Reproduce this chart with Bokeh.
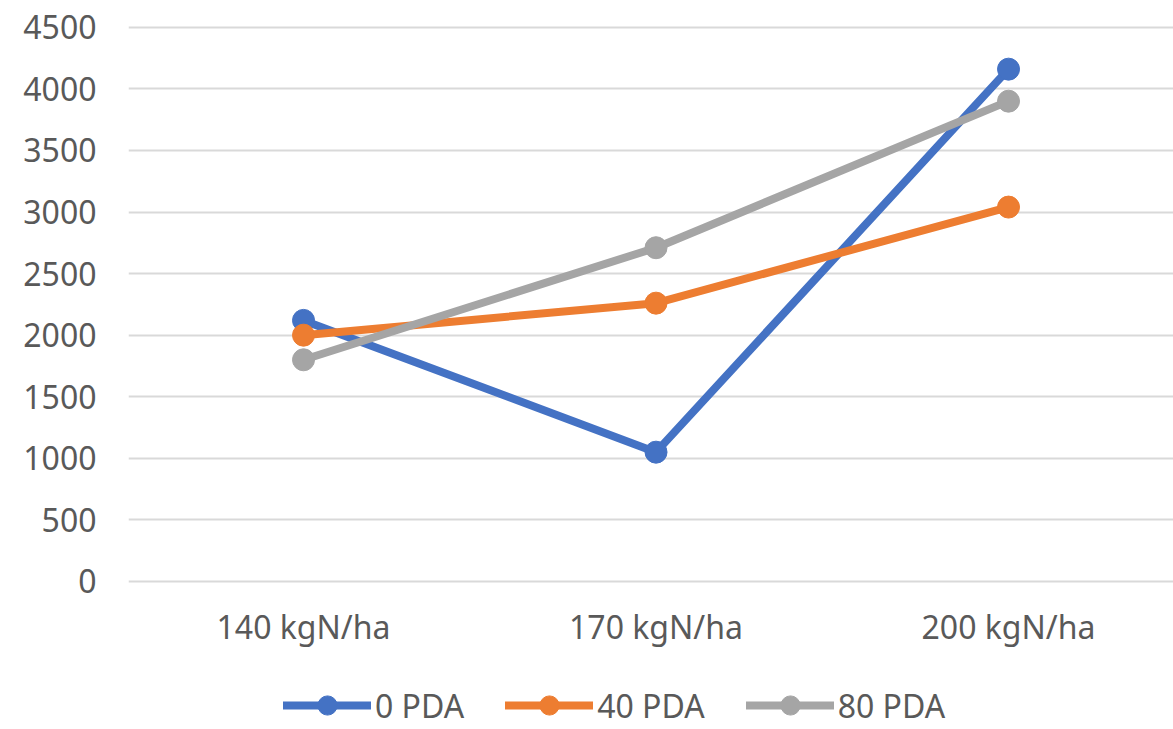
from bokeh.plotting import figure
from bokeh.models import Range1d, FixedTicker, Legend, LegendItem
from bokeh.embed import file_html
from bokeh.resources import INLINE

categories = ["140 kgN/ha", "170 kgN/ha", "200 kgN/ha"]
series_names = ["0 PDA", "40 PDA", "80 PDA"]
pda_0 = [2120, 1050, 4160]
pda_40 = [2000, 2260, 3040]
pda_80 = [1800, 2710, 3900]
y_ticks = [0, 500, 1000, 1500, 2000, 2500, 3000, 3500, 4000, 4500]

colors = ["#4472C4", "#ED7D31", "#A5A5A5"]
FONT = "Noto Sans"
TEXT = "#595959"

p = figure(frame_width=1045, frame_height=717,
           min_border_left=128, min_border_right=0, min_border_top=12, min_border_bottom=0,
           x_range=Range1d(-0.4965, 2.468), y_range=Range1d(-1202, 4620),
           output_backend="svg", toolbar_location=None)
p.outline_line_color = None
p.xgrid.grid_line_color = None
p.ygrid.grid_line_color = "#D9D9D9"
p.ygrid.grid_line_width = 2
p.ygrid.ticker = FixedTicker(ticks=y_ticks)

xs = list(range(len(categories)))
items = []
for name, vals, c in zip(series_names, [pda_0, pda_40, pda_80], colors):
    r1 = p.line(xs, vals, line_color=c, line_width=8, line_join="round", line_cap="round")
    r2 = p.scatter(xs, vals, size=22, fill_color=c, line_color=c, marker="circle")
    items.append(LegendItem(label=name, renderers=[r1, r2]))

p.xaxis.ticker = FixedTicker(ticks=xs)
p.xaxis.major_label_overrides = {i: c for i, c in enumerate(categories)}
p.xaxis.fixed_location = 0
p.yaxis.ticker = FixedTicker(ticks=y_ticks)
for ax in (p.xaxis[0], p.yaxis[0]):
    ax.axis_line_color = None
    ax.major_tick_line_color = None
    ax.minor_tick_line_color = None
    ax.major_tick_out = 0
    ax.major_tick_in = 0
    ax.major_label_text_font = FONT
    ax.major_label_text_font_size = "32px"
    ax.major_label_text_color = TEXT
p.xaxis.major_label_standoff = 24
p.yaxis.major_label_standoff = 32

legend = Legend(items=items, orientation="horizontal", location=(155, 0),
                glyph_width=88, glyph_height=48, label_standoff=4, spacing=41,
                padding=0, margin=0, border_line_color=None, background_fill_alpha=0,
                label_text_font=FONT, label_text_font_size="32px", label_text_color=TEXT)
p.add_layout(legend, "center")

open("out.html", "w").write(file_html(p, INLINE))
